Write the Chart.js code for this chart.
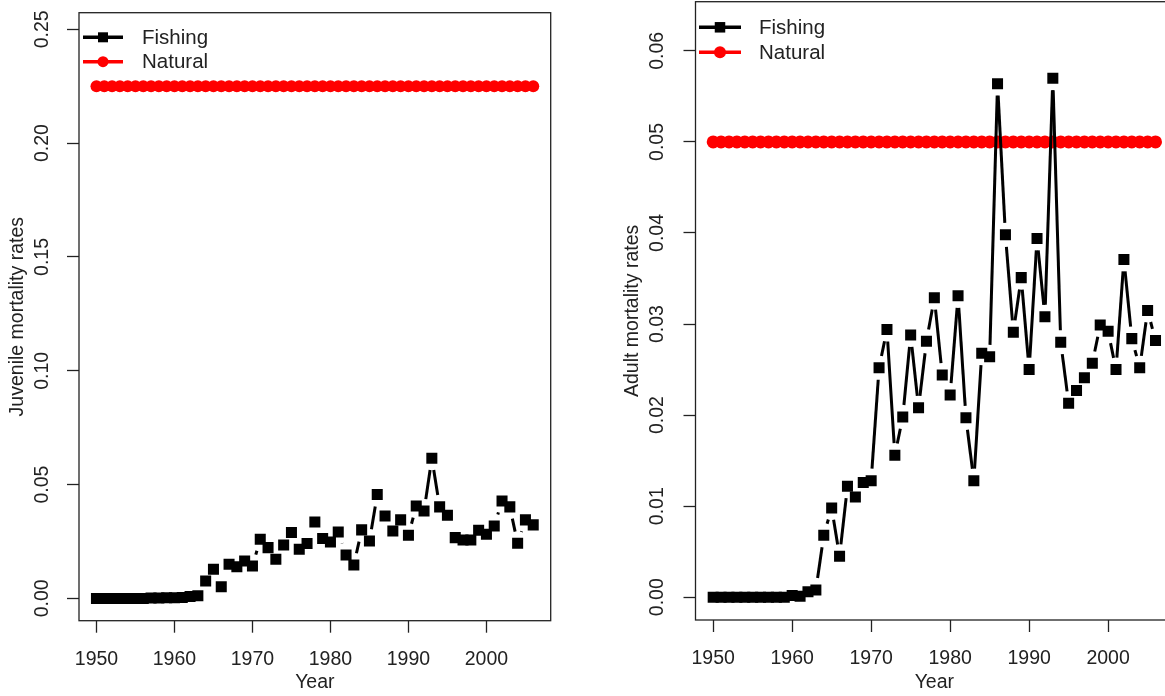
<!DOCTYPE html>
<html><head><meta charset="utf-8">
<script src="https://cdn.jsdelivr.net/npm/chart.js@4"></script>
<style>
html,body{margin:0;padding:0;background:#fff;overflow:hidden;width:1165px;height:696px;}
.p{position:absolute;top:0;}
#wa{left:0;width:600px;height:696px;}
#wb{left:600px;width:580px;height:696px;}
canvas{display:block;}
</style></head><body>
<div class="p" id="wa"><canvas id="ca" width="600" height="696"></canvas></div>
<div class="p" id="wb"><canvas id="cb" width="580" height="696"></canvas></div>
<script>
// ---------- data ----------
const years = [1950,1951,1952,1953,1954,1955,1956,1957,1958,1959,
  1960,1961,1962,1963,1964,1965,1966,1967,1968,1969,
  1970,1971,1972,1973,1974,1975,1976,1977,1978,1979,
  1980,1981,1982,1983,1984,1985,1986,1987,1988,1989,
  1990,1991,1992,1993,1994,1995,1996,1997,1998,1999,
  2000,2001,2002,2003,2004,2005,2006];

const juvFishing = [0,0,0,0,0,0,0,0.0002,0.0002,0.0003,
  0.0003,0.0004,0.0008,0.0012,0.0076,0.0128,0.0051,0.0150,0.0139,0.0164,
  0.0142,0.0260,0.0223,0.0172,0.0235,0.0289,0.0216,0.0241,0.0336,0.0263,
  0.0248,0.0292,0.0191,0.0147,0.0301,0.0252,0.0456,0.0362,0.0296,0.0345,
  0.0277,0.0406,0.0384,0.0616,0.0402,0.0365,0.0267,0.0257,0.0257,0.0299,
  0.0282,0.0318,0.0428,0.0402,0.0242,0.0345,0.0323];

const juvNatural = [0.225,0.225,0.225,0.225,0.225,0.225,0.225,0.225,0.225,0.225,
  0.225,0.225,0.225,0.225,0.225,0.225,0.225,0.225,0.225,0.225,
  0.225,0.225,0.225,0.225,0.225,0.225,0.225,0.225,0.225,0.225,
  0.225,0.225,0.225,0.225,0.225,0.225,0.225,0.225,0.225,0.225,
  0.225,0.225,0.225,0.225,0.225,0.225,0.225,0.225,0.225,0.225,
  0.225,0.225,0.225,0.225,0.225,0.225,0.225];

const adultFishing = [0,0,0,0,0,0,0,0,0,0,
  0.0002,0.0001,0.0006,0.0008,0.0068,0.0098,0.0045,0.0122,0.0110,0.0126,
  0.0128,0.0252,0.0294,0.0156,0.0198,0.0288,0.0208,0.0281,0.0329,0.0244,
  0.0222,0.0331,0.0197,0.0128,0.0268,0.0264,0.0564,0.0398,0.0291,0.0351,
  0.0250,0.0394,0.0308,0.0570,0.0280,0.0213,0.0227,0.0241,0.0257,0.0299,
  0.0292,0.0250,0.0371,0.0284,0.0252,0.0315,0.0282];

const adultNatural = [0.05,0.05,0.05,0.05,0.05,0.05,0.05,0.05,0.05,0.05,
  0.05,0.05,0.05,0.05,0.05,0.05,0.05,0.05,0.05,0.05,
  0.05,0.05,0.05,0.05,0.05,0.05,0.05,0.05,0.05,0.05,
  0.05,0.05,0.05,0.05,0.05,0.05,0.05,0.05,0.05,0.05,
  0.05,0.05,0.05,0.05,0.05,0.05,0.05,0.05,0.05,0.05,
  0.05,0.05,0.05,0.05,0.05,0.05,0.05];

const seriesNames = ['Fishing', 'Natural'];
const xTicks = [1950,1960,1970,1980,1990,2000];
const xTickLabels = ['1950','1960','1970','1980','1990','2000'];
const juvTicks = [0,0.05,0.10,0.15,0.20,0.25];
const juvTickLabels = ['0.00','0.05','0.10','0.15','0.20','0.25'];
const adultTicks = [0,0.01,0.02,0.03,0.04,0.05,0.06];
const adultTickLabels = ['0.00','0.01','0.02','0.03','0.04','0.05','0.06'];
const xTitle = 'Year';
const juvTitle = 'Juvenile mortality rates';
const adultTitle = 'Adult mortality rates';

// ---------- styling ----------
const FONT = 'Liberation Sans, Arial, sans-serif';
const INK = '#222';

const pts = (vals) => years.map((y, i) => ({x: y, y: vals[i]}));

// R type="b" line: segments with gaps around points
const gapLinePlugin = {
  id: 'gapLine',
  beforeDatasetDraw(chart, args) {
    const ds = chart.data.datasets[args.index];
    if (!ds.gapLine) return;
    const pts = args.meta.data;
    const ctx = chart.ctx, a = chart.chartArea;
    ctx.save();
    ctx.beginPath(); ctx.rect(a.left, a.top, a.right - a.left, a.bottom - a.top); ctx.clip();
    ctx.strokeStyle = ds.gapLine.color; ctx.lineWidth = ds.gapLine.width; ctx.lineCap = 'butt';
    const g = ds.gapLine.gap;
    for (let i = 0; i < pts.length - 1; i++) {
      const p = pts[i], q = pts[i + 1];
      const dx = q.x - p.x, dy = q.y - p.y, d = Math.hypot(dx, dy);
      if (d <= 2 * g) continue;
      const ux = dx / d, uy = dy / d;
      ctx.beginPath();
      ctx.moveTo(p.x + ux * g, p.y + uy * g);
      ctx.lineTo(q.x - ux * g, q.y - uy * g);
      ctx.stroke();
    }
    ctx.restore();
  }
};

const framePlugin = {
  id: 'frame',
  afterDraw(chart) {
    const ctx = chart.ctx, a = chart.chartArea;
    ctx.save();
    ctx.strokeStyle = INK; ctx.lineWidth = 1.3;
    ctx.strokeRect(a.left, a.top, a.right - a.left, a.bottom - a.top);
    ctx.restore();
  }
};

const legendPlugin = {
  id: 'rlegend',
  afterDraw(chart, args, opts) {
    const ctx = chart.ctx;
    ctx.save();
    chart.data.datasets.forEach((ds, i) => {
      const y = opts.ys[i];
      ctx.strokeStyle = ds.legendColor; ctx.lineWidth = 3.5;
      ctx.beginPath(); ctx.moveTo(opts.x0, y); ctx.lineTo(opts.x1, y); ctx.stroke();
      ctx.fillStyle = ds.legendColor;
      const cx = (opts.x0 + opts.x1) / 2;
      if (ds.pointStyle === 'rect') {
        const s = opts.sq;
        ctx.fillRect(cx - s / 2, y - s / 2, s, s);
      } else {
        ctx.beginPath(); ctx.arc(cx, y, opts.cr, 0, Math.PI * 2); ctx.fill();
      }
      ctx.fillStyle = INK;
      ctx.font = '20.5px ' + FONT;
      ctx.textAlign = 'left'; ctx.textBaseline = 'middle';
      ctx.fillText(ds.label, opts.textX, y + 1);
    });
    ctx.restore();
  }
};

const noPad = s => { s.paddingLeft = 0; s.paddingRight = 0; s.paddingTop = 0; s.paddingBottom = 0; };

function makeChart(id, c) {
  const font = {family: FONT, size: 19.5};
  return new Chart(document.getElementById(id), {
    type: 'line',
    data: {
      datasets: [
        {
          label: seriesNames[0], data: pts(c.fishing),
          showLine: false, pointStyle: 'rect', pointRadius: 7.8, pointHoverRadius: 7.8,
          pointBackgroundColor: '#000', pointBorderWidth: 0, borderColor: '#000',
          legendColor: '#000',
          gapLine: {color: '#000', width: 3, gap: 12}
        },
        {
          label: seriesNames[1], data: pts(c.natural),
          showLine: true, borderColor: '#ff0000', borderWidth: 3,
          pointStyle: 'circle', pointRadius: c.natR, pointHoverRadius: c.natR,
          pointBackgroundColor: '#ff0000', pointBorderWidth: 0,
          legendColor: '#ff0000'
        }
      ]
    },
    options: {
      responsive: false, animation: false, devicePixelRatio: 1,
      events: [],
      layout: {autoPadding: false, padding: {top: c.boxTop, right: c.W - c.boxRight, left: 0, bottom: 0}},
      plugins: {
        legend: {display: false}, tooltip: {enabled: false},
        rlegend: c.legend
      },
      scales: {
        x: {
          type: 'linear', min: 1947.76, max: 2008.24, bounds: 'data',
          afterBuildTicks: s => { s.ticks = xTicks.map(v => ({value: v})); },
          afterFit: s => { s.height = c.H - c.boxBottom; noPad(s); },
          grid: {display: true, drawOnChartArea: false, drawTicks: true, tickLength: 12,
                 tickColor: INK, tickWidth: 1.3, color: INK},
          border: {display: false},
          ticks: {autoSkip: false, minRotation: 0, maxRotation: 0, padding: 15, color: INK, font,
                  callback: (v, i) => xTickLabels[i]},
          title: {display: true, text: xTitle, color: INK, font, padding: {top: 0, bottom: 1.3}}
        },
        y: {
          type: 'linear', min: c.yMin, max: c.yMax, bounds: 'data',
          afterBuildTicks: s => { s.ticks = c.yTicks.map(v => ({value: v})); },
          afterFit: s => { s.width = c.boxLeft; noPad(s); },
          grid: {display: true, drawOnChartArea: false, drawTicks: true, tickLength: 12,
                 tickColor: INK, tickWidth: 1.3, color: INK},
          border: {display: false},
          ticks: {autoSkip: false, minRotation: 90, maxRotation: 90, crossAlign: 'center',
                  padding: c.tickPad, color: INK, font,
                  callback: (v, i) => c.yLabels[i]},
          title: {display: true, text: c.yTitle, color: INK, font, padding: {top: c.titlePad, bottom: 0}}
        }
      }
    },
    plugins: [gapLinePlugin, framePlugin, legendPlugin]
  });
}

makeChart('ca', {
  W: 600, H: 696, boxLeft: 79, boxTop: 12.7, boxRight: 550.7, boxBottom: 620.7,
  yMin: -0.0098, yMax: 0.2573, yTicks: juvTicks, yLabels: juvTickLabels, yTitle: juvTitle,
  tickPad: 5.5, titlePad: 6.3, natR: 6,
  fishing: juvFishing, natural: juvNatural,
  legend: {x0: 83, x1: 123, textX: 142, ys: [37.3, 61.7], sq: 10, cr: 5.5}
});

makeChart('cb', {
  W: 580, H: 696, boxLeft: 95.5, boxTop: 1.7, boxRight: 573.2, boxBottom: 620,
  yMin: -0.0025, yMax: 0.0654, yTicks: adultTicks, yLabels: adultTickLabels, yTitle: adultTitle,
  tickPad: 7, titlePad: 21.3, natR: 6.5,
  fishing: adultFishing, natural: adultNatural,
  legend: {x0: 99, x1: 141, textX: 159, ys: [27.3, 52.3], sq: 10.5, cr: 6}
});
</script>
</body></html>
